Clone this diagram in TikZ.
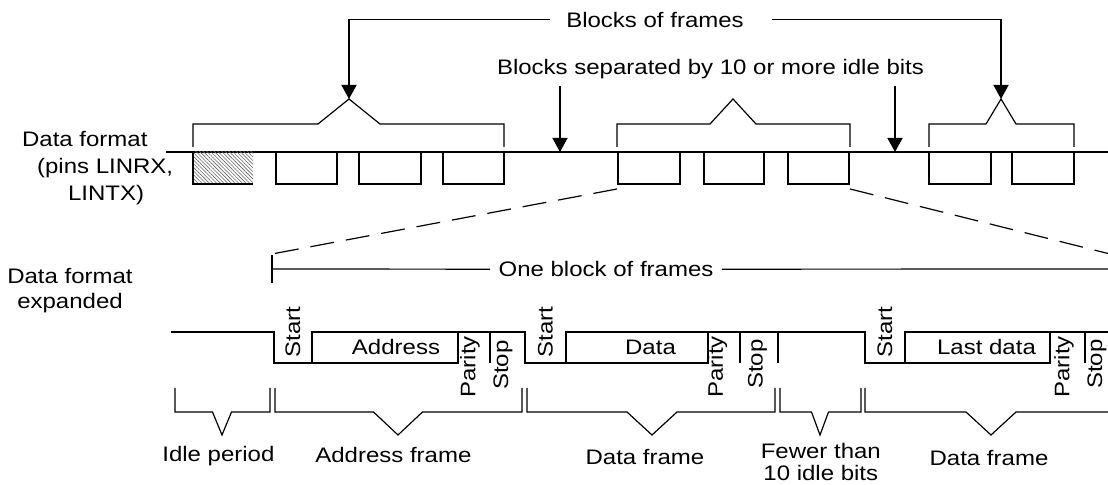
\documentclass[tikz,border=0pt]{standalone}
\usepackage{fontspec}
\setmainfont[FakeStretch=1.143]{Liberation Sans}
\usetikzlibrary{arrows.meta,patterns.meta}

\begin{document}
\begin{tikzpicture}[
    x=0.5pt, y={(0pt,-0.5pt)},
    every node/.style={font=\fontsize{10.5}{12.6}\selectfont},
    sig/.style={line width=1.3pt},
    brk/.style={line width=0.6pt},
    arr/.style={-{Triangle[length=7pt,width=7.5pt]}, line width=0.7pt},
    zoomline/.style={brk, dash pattern=on 12pt off 6pt},
    lbl/.style={inner sep=0pt},
    vlbl/.style={rotate=90, inner sep=0pt}
]
\clip (0,0) rectangle (1108,485);

% upper trace: data format on the pins
\node[lbl, anchor=north west, align=left, font=\fontsize{10.5}{13.5}\selectfont]
    (fmt) at (21.7,131.4) {Data format\\\hspace*{7.5pt}(pins LINRX,\\\hspace*{23pt}LINTX)};
\draw[line width=1.2pt] (166,152) -- (1110,152);
\fill[pattern={Lines[angle=-45,distance=1.3pt,line width=0.3pt]}, pattern color=black!60]
    (193,152) rectangle (253,184);
\draw[sig] (193,152) -- (193,184) -- (253,184);
\foreach \xl/\xr in {276/337, 359/421, 443/504, 618/680, 704/764, 788/849, 929/991, 1012/1074}
    \draw[sig] (\xl,152) -- (\xl,184) -- (\xr,184) -- (\xr,152);

% brackets over each block
\foreach \xl/\xr/\xa/\hw/\i in {193/504/349/31/1, 617/850/733/23/2, 929/1074/1001/15/3} {
    \draw[brk] (\xl,147) -- (\xl,124) -- (\xa-\hw,124) -- (\xa,99) -- (\xa+\hw,124) -- (\xr,124) -- (\xr,147);
    \coordinate (g\i) at (\xa,99);
}

\node[lbl, anchor=base] (bof) at (655,27.3) {Blocks of frames};
\draw[arr] ([xshift=-8pt]bof.west) -| (g1);
\draw[arr] ([xshift=14pt]bof.east) -| (g3);

\node[anchor=base] (bsep) at (710.5,75) {Blocks separated by 10 or more idle bits};
\coordinate (sep1) at (560,152);
\coordinate (sep2) at (895,152);
\draw[arr] (bsep.south -| sep1) -- (sep1);
\draw[arr] (bsep.south -| sep2) -- (sep2);

% zoom lines to the expanded view
\coordinate (blkl) at (617,189);
\coordinate (blkr) at (850,189);
\coordinate (expl) at (272,254);
\coordinate (expr) at (1130,259);
\draw[zoomline] (blkl) -- (expl);
\draw[zoomline] (blkr) -- (expr);

% lower trace: one block expanded
\node[lbl, anchor=north, align=center, font=\fontsize{10.5}{12.5}\selectfont]
    (fmtx) at (70,267.7) {Data format\\expanded};
\draw[brk] (272,255) -- (272,283);
\coordinate (obl) at (272,269);
\coordinate (obr) at (1110,269);
\node[anchor=base, inner xsep=4pt] (obf) at (606,276.7) {One block of frames};
\draw[brk] (obl) -- (obf.west);
\draw[brk] (obf.east) -- (obr);

\draw[sig] (171,332) -- (274,332) -- (274,363) -- (312,363);
\draw[sig] (312,332) rectangle (458,363);
\draw[sig] (458,332) -- (490,332) -- (490,363);
\draw[sig] (490,332) -- (525,332) -- (525,363) -- (566,363);
\draw[sig] (566,332) rectangle (708,363);
\draw[sig] (708,332) -- (740,332) -- (740,363);
\draw[sig] (740,332) -- (778,332) -- (778,363);
\draw[sig] (778,332) -- (865,332) -- (865,363) -- (905,363);
\draw[sig] (905,332) rectangle (1050,363);
\draw[sig] (1050,332) -- (1085,332) -- (1085,363);
\draw[sig] (1085,332) -- (1110,332);

\node[vlbl] (st1) at (293,332) {Start};
\node[vlbl] (st2) at (545.5,332) {Start};
\node[vlbl] (st3) at (885,332) {Start};
\node[lbl, anchor=base] (addr) at (396,355) {Address};
\node[lbl, anchor=base] (dat) at (650.5,355) {Data};
\node[lbl, anchor=base] (ldat) at (986.5,355) {Last data};
\node[vlbl] (par1) at (470,367) {Parity};
\node[vlbl] (par2) at (717.5,367) {Parity};
\node[vlbl] (par3) at (1064,367) {Parity};
\node[vlbl] (sp1) at (503,365) {Stop};
\node[vlbl] (sp2) at (757.5,364) {Stop};
\node[vlbl] (sp3) at (1097,364) {Stop};

% brackets under the frames
\foreach \xl/\xr/\xa/\hw in {175/270/222/9.5, 275/522/398/24.5, 527/775/652/25, 780/861/820/8.5, 865/1130/991/25}
    \draw[brk] (\xl,388) -- (\xl,412) -- (\xa-\hw,412) -- (\xa,435) -- (\xa+\hw,412) -- (\xr,412) -- (\xr,388);

\node[lbl, anchor=base] (idle) at (218.4,462) {Idle period};
\node[lbl, anchor=base] (addrf) at (393.4,463) {Address frame};
\node[lbl, anchor=base] (dataf) at (645,465) {Data frame};
\node[lbl, anchor=north, align=center, font=\fontsize{10.5}{11}\selectfont]
    (fewer) at (820.8,442.5) {Fewer than\\10 idle bits};
\node[lbl, anchor=base] (dataf2) at (989,466) {Data frame};

\end{tikzpicture}
\end{document}
